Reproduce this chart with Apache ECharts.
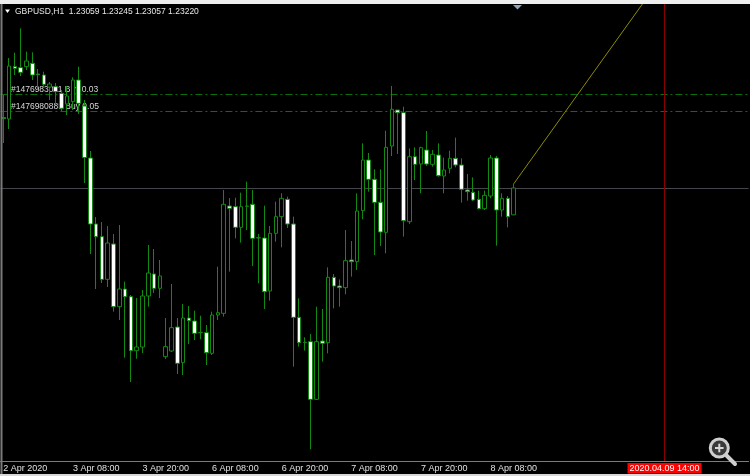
<!DOCTYPE html>
<html><head><meta charset="utf-8">
<script src="https://cdn.jsdelivr.net/npm/echarts@6/dist/echarts.min.js"></script>
<style>html,body{margin:0;padding:0;background:#000;}#c{width:750px;height:476px;}</style>
</head><body><div id="c"></div>
<script>
// ---------- data ----------
const symbolName = 'GBPUSD,H1';
const firstBarTime = Date.UTC(2020, 3, 2, 20, 0); // 2 Apr 2020 20:00, H1 bars
const barCount = 129; // bars incl. empty future space (chart shift)

const opens = [
1.23643,1.23634,1.23949,1.23942,1.23948,1.23968,1.23904,1.23898,1.23826,1.23828,
1.23788,1.23724,1.23738,1.23868,1.23712,1.23400,1.23004,1.22928,1.22672,1.22884,
1.22508,1.22614,1.22568,1.22244,1.22266,1.22572,1.22704,1.22618,1.22208,1.22242,
1.22386,1.22172,1.22440,1.22422,1.22352,1.22352,1.22228,1.22458,1.22468,1.23112,
1.23108,1.22984,1.23110,1.23122,1.22920,1.22920,1.22602,1.22948,1.23048,1.23152,
1.23004,1.22444,1.22292,1.22298,1.21952,1.22302,1.22292,1.22684,1.22632,1.22622,
1.22788,1.22778,1.23084,1.23388,1.23272,1.23134,1.22954,1.23472,1.23688,1.23672,
1.23018,1.23408,1.23364,1.23448,1.23362,1.23418,1.23292,1.23338,1.23398,1.23358,
1.23208,1.23194,1.23152,1.23096,1.23172,1.23400,1.23088,1.23158,1.23059];
const highs = [
1.23778,1.24000,1.24032,1.24178,1.24038,1.24034,1.23934,1.23918,1.23856,1.23850,
1.23808,1.23832,1.23884,1.23948,1.23748,1.23442,1.23046,1.23016,1.22992,1.22944,
1.22998,1.22658,1.22578,1.22560,1.22608,1.22878,1.22854,1.22788,1.22440,1.22644,
1.22440,1.22524,1.22512,1.22484,1.22454,1.22398,1.22478,1.22748,1.23208,1.23160,
1.23162,1.23192,1.23258,1.23208,1.22944,1.23114,1.22992,1.23138,1.23188,1.23168,
1.23048,1.22558,1.22324,1.22344,1.22508,1.22494,1.22744,1.22704,1.22672,1.22968,
1.22902,1.23188,1.23488,1.23430,1.23332,1.23332,1.23564,1.23832,1.23688,1.23708,
1.23458,1.23464,1.23468,1.23562,1.23448,1.23488,1.23402,1.23444,1.23522,1.23398,
1.23304,1.23284,1.23204,1.23204,1.23418,1.23412,1.23188,1.23172,1.23245];
const lows = [
1.23490,1.23574,1.23898,1.23892,1.23928,1.23868,1.23808,1.23828,1.23748,1.23718,
1.23682,1.23658,1.23688,1.23664,1.23250,1.22824,1.22614,1.22650,1.22626,1.22478,
1.22428,1.22202,1.22056,1.22196,1.22230,1.22508,1.22590,1.22560,1.22194,1.22236,
1.22104,1.22098,1.22284,1.22308,1.22312,1.22158,1.22218,1.22428,1.22448,1.22718,
1.22918,1.22892,1.22968,1.22752,1.22648,1.22494,1.22544,1.22898,1.22864,1.22980,
1.22148,1.22268,1.22244,1.21652,1.21948,1.22178,1.22228,1.22498,1.22508,1.22582,
1.22688,1.22728,1.23032,1.23198,1.22818,1.22872,1.22828,1.23412,1.23424,1.22928,
1.23004,1.23268,1.23188,1.23352,1.23348,1.23288,1.23188,1.23308,1.23344,1.23132,
1.23144,1.23142,1.23092,1.23088,1.23158,1.22874,1.23048,1.22984,1.23057];
const closes = [
1.23637,1.23952,1.23938,1.23914,1.23982,1.23898,1.23900,1.23842,1.23844,1.23798,
1.23698,1.23772,1.23868,1.23728,1.23403,1.23004,1.22928,1.22672,1.22890,1.22508,
1.22614,1.22568,1.22244,1.22266,1.22572,1.22710,1.22618,1.22692,1.22268,1.22382,
1.22168,1.22440,1.22424,1.22348,1.22354,1.22232,1.22458,1.22472,1.23122,1.23098,
1.22984,1.23108,1.23112,1.22918,1.22922,1.22598,1.22948,1.23048,1.23158,1.23004,
1.22444,1.22292,1.22294,1.21952,1.22298,1.22288,1.22684,1.22632,1.22622,1.22784,
1.22778,1.23082,1.23388,1.23272,1.23134,1.22956,1.23464,1.23692,1.23672,1.23024,
1.23408,1.23362,1.23462,1.23364,1.23422,1.23294,1.23328,1.23398,1.23358,1.23212,
1.23198,1.23148,1.23096,1.23176,1.23400,1.23088,1.23158,1.23048,1.23220];

const tickIdx  = [0, 12, 24, 36, 48, 60, 72, 84];
const tickText = ['2 Apr 2020','3 Apr 08:00','3 Apr 20:00','6 Apr 08:00','6 Apr 20:00','7 Apr 08:00','7 Apr 20:00','8 Apr 08:00'];

const orderPrices = [1.23782, 1.23682];
const orderLabels = ['#1476983011 Buy 0.03', '#1476980885 Buy 0.05'];
const bidPrice = 1.23220;
const markerBar = 114;
const markerLabel = '2020.04.09 14:00';
const trendFrom = [88, 1.23245];
const trendTo = [112, 1.24412];
const priceMin = 1.21582, priceMax = 1.24324;

// ---------- build ----------
const categories = [];
(function(){
  let t = firstBarTime;
  const p = n => String(n).padStart(2, '0');
  while (categories.length < barCount) {
    const d = new Date(t);
    const wd = d.getUTCDay();
    if (wd !== 0 && wd !== 6) {
      categories.push(d.getUTCFullYear() + '.' + p(d.getUTCMonth()+1) + '.' + p(d.getUTCDate()) + ' ' + p(d.getUTCHours()) + ':00');
    }
    t += 3600000;
  }
})();
const candles = opens.map((o, i) => [o, closes[i], lows[i], highs[i]]);
const last = opens.length - 1;
const headerText = symbolName + '  ' + opens[last].toFixed(5) + ' ' + highs[last].toFixed(5) + ' ' +
                   lows[last].toFixed(5) + ' ' + closes[last].toFixed(5);

const FONT = 'Liberation Sans';
const GREEN = '#128a12';
const GRID = {left: 0.4, right: 1.4, top: 4, bottom: 15};
const W = 750, H = 476;
const chart = echarts.init(document.getElementById('c'), null, {renderer: 'canvas'});
chart.setOption({
  backgroundColor: '#000000',
  animation: false,
  grid: GRID,
  xAxis: {
    type: 'category', data: categories, boundaryGap: true,
    axisLine: {show: true, lineStyle: {color: '#7c7c7c', width: 1}},
    axisTick: {show: false},
    splitLine: {show: false},
    axisLabel: {
      interval: (i) => tickIdx.indexOf(i) >= 0,
      formatter: (v, i) => { const k = tickIdx.indexOf(i); return k >= 0 ? tickText[k] : ''; },
      color: '#e0e0e0', fontSize: 9, fontFamily: FONT, align: 'left', margin: 3
    }
  },
  yAxis: {type: 'value', min: priceMin, max: priceMax, show: false, splitLine: {show: false}},
  series: [
    {
      type: 'line', data: [trendFrom, trendTo], symbol: 'none', silent: true, z: 3,
      lineStyle: {color: '#8c8c00', width: 1},
      markLine: {
        silent: true, symbol: 'none', animation: false, label: {show: false},
        data: [{xAxis: markerBar, lineStyle: {color: '#8a0000', type: 'solid', width: 1}}]
      }
    },
    {
      type: 'candlestick', data: candles, barWidth: 4, z: 5,
      itemStyle: {color: '#000000', color0: '#ffffff', borderColor: GREEN, borderColor0: GREEN, borderWidth: 1}
    }
  ]
});

const x0 = GRID.left, x1 = W - GRID.right;
const gx = chart.convertToPixel({xAxisIndex: 0}, markerBar);
const oy = orderPrices.map(p => Math.round(chart.convertToPixel({yAxisIndex: 0}, p)) + 0.5);
const by = Math.round(chart.convertToPixel({yAxisIndex: 0}, bidPrice)) + 0.5;
const txt = (x, y, s, fill, align, z, size) => ({type: 'text', x: x, y: y, z: z, silent: true,
  style: {text: s, fill: fill, font: (size || 9) + 'px "' + FONT + '"', textAlign: align || 'left', textVerticalAlign: 'middle'}});
const hline = (y, color, dash, z) => ({type: 'line', z: z, silent: true, shape: {x1: x0, y1: y, x2: x1, y2: y},
  style: {stroke: color, lineWidth: 1, lineDash: dash || null}});

chart.setOption({
  graphic: [
    hline(oy[0], '#0b6e0b', [7, 3, 2, 3], 2),
    hline(oy[1], '#0b6e0b', [7, 3, 2, 3], 2),
    hline(by, '#45454d', null, 2),
    {type: 'rect', shape: {x: 0, y: 0, width: 750, height: 4}, style: {fill: '#eeeeee'}, z: 100, silent: true},
    {type: 'rect', shape: {x: 0, y: 474, width: 750, height: 2}, style: {fill: '#d8d8d8'}, z: 100, silent: true},
    {type: 'line', shape: {x1: 1.5, y1: 4, x2: 1.5, y2: 474}, style: {stroke: '#7a7a7a', lineWidth: 2}, z: 100, silent: true},
    {type: 'polygon', shape: {points: [[5, 9.5], [10, 9.5], [7.5, 13]]}, style: {fill: '#ffffff'}, z: 100, silent: true},
    txt(15, 12, headerText, '#e6e6e6', 'left', 100, 8.5),
    txt(11, oy[0] - 5.3, orderLabels[0], '#d6d6d6', 'left', 1, 8.5),
    txt(11, oy[1] - 5.3, orderLabels[1], '#d6d6d6', 'left', 1, 8.5),
    {type: 'polygon', shape: {points: [[513, 5], [522, 5], [517.5, 9.5]]}, style: {fill: '#93a4b8'}, z: 100, silent: true},
    {type: 'rect', shape: {x: gx - 37, y: 463, width: 74, height: 10.5}, style: {fill: '#ff0000'}, z: 100, silent: true},
    txt(gx, 468.5, markerLabel, '#ffffff', 'center', 101),
    {type: 'line', shape: {x1: 726, y1: 455, x2: 735, y2: 464}, style: {stroke: '#cfcfcf', lineWidth: 4, lineCap: 'round'}, z: 100, silent: true},
    {type: 'circle', shape: {cx: 719.3, cy: 448, r: 9}, style: {fill: '#3a3a3a', stroke: '#cfcfcf', lineWidth: 3}, z: 101, silent: true},
    {type: 'line', shape: {x1: 715, y1: 448, x2: 723.6, y2: 448}, style: {stroke: '#d8d8d8', lineWidth: 2}, z: 102, silent: true},
    {type: 'line', shape: {x1: 719.3, y1: 443.7, x2: 719.3, y2: 452.3}, style: {stroke: '#d8d8d8', lineWidth: 2}, z: 102, silent: true}
  ]
});
</script>
</body></html>
